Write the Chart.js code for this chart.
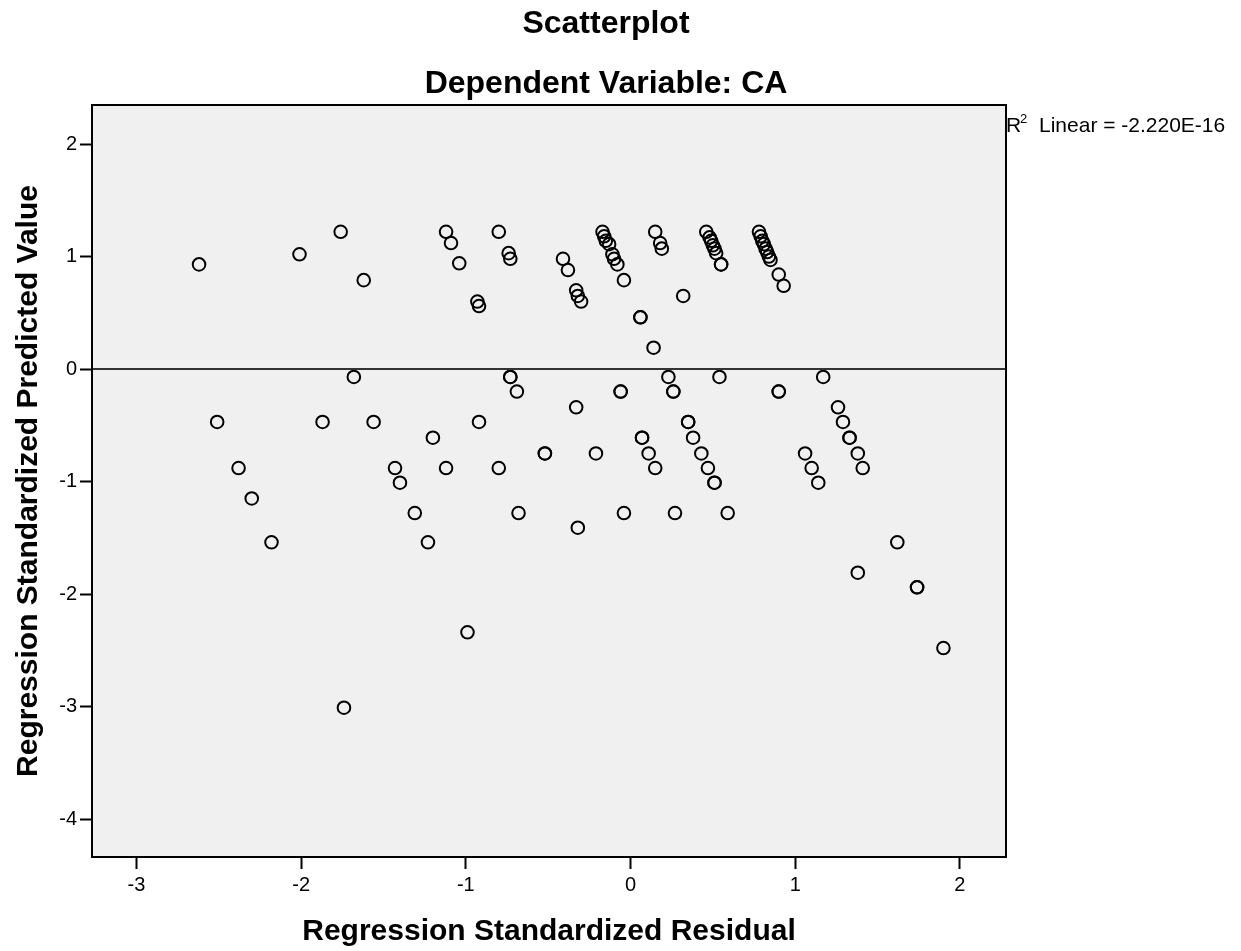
<!DOCTYPE html>
<html>
<head>
<meta charset="utf-8">
<script src="https://cdn.jsdelivr.net/npm/chart.js@4/dist/chart.umd.min.js"></script>
<style>
  html,body{margin:0;padding:0;background:#fff;}
  #c{display:block;}
</style>
</head>
<body>
<canvas id="c" width="1241" height="951"></canvas>
<script>
// values
const residual = [
  -2.62,-2.01,-1.76,-1.62,-1.12,-1.09,-1.04,-0.93,-0.92,-0.80,-0.74,-0.73,-0.41,-0.38,-0.33,-0.32,-0.30,
  -0.17,-0.16,-0.15,-0.13,-0.11,-0.10,-0.08,-0.04,0.06,0.06,0.14,0.15,0.18,0.19,0.32,
  0.46,0.48,0.49,0.50,0.51,0.52,0.55,0.55,0.78,0.79,0.80,0.81,0.82,0.83,0.84,0.85,0.90,0.93,
  -1.68,-0.73,-0.73,-0.69,0.23,0.54,0.90,0.90,1.17,-0.06,-0.06,0.26,0.26,
  -2.51,-1.87,-1.56,-0.92,-0.33,0.35,0.35,1.26,1.29,
  -2.38,-1.43,-1.12,-0.80,-1.20,-0.52,-0.52,-0.21,0.07,0.07,0.11,0.15,0.38,0.43,0.47,0.51,0.51,
  -1.40,1.06,1.10,1.14,1.33,1.33,1.38,1.41,
  -2.30,-1.31,-0.68,-0.04,0.27,0.59,-0.32,-2.18,-1.23,1.62,1.38,1.74,1.74,1.90,-0.99,-1.74
];
const predicted = [
  0.93,1.02,1.22,0.79,1.22,1.12,0.94,0.60,0.56,1.22,1.03,0.98,0.98,0.88,0.70,0.65,0.60,
  1.22,1.18,1.14,1.11,1.02,0.98,0.93,0.79,0.46,0.46,0.19,1.22,1.12,1.07,0.65,
  1.22,1.17,1.14,1.10,1.07,1.03,0.93,0.93,1.22,1.18,1.14,1.11,1.07,1.04,1.00,0.97,0.84,0.74,
  -0.07,-0.07,-0.07,-0.20,-0.07,-0.07,-0.20,-0.20,-0.07,-0.20,-0.20,-0.20,-0.20,
  -0.47,-0.47,-0.47,-0.47,-0.34,-0.47,-0.47,-0.34,-0.47,
  -0.88,-0.88,-0.88,-0.88,-0.61,-0.75,-0.75,-0.75,-0.61,-0.61,-0.75,-0.88,-0.61,-0.75,-0.88,-1.01,-1.01,
  -1.01,-0.75,-0.88,-1.01,-0.61,-0.61,-0.75,-0.88,
  -1.15,-1.28,-1.28,-1.28,-1.28,-1.28,-1.41,-1.54,-1.54,-1.54,-1.81,-1.94,-1.94,-2.48,-2.34,-3.01
];
const xTicks = [-3,-2,-1,0,1,2];
const yTicks = [-4,-3,-2,-1,0,1,2];
const xRange = [-3.27, 2.28];
const yRange = [-4.337, 2.347];
const fitLine = [0, 0];   // R2 linear fit, flat at zero
const titles = ['Scatterplot', 'Dependent Variable: CA'];
const xTitle = 'Regression Standardized Residual';
const yTitle = 'Regression Standardized Predicted Value';
const fitLabel = 'Linear = -2.220E-16';

const FONT = "'Liberation Sans', Arial, sans-serif";

const frame = {
  id: 'frame',
  beforeDraw(chart){
    const {ctx, chartArea:a} = chart;
    ctx.save();
    ctx.fillStyle = '#fff';
    ctx.fillRect(0,0,chart.width,chart.height);
    ctx.fillStyle = '#f0f0f0';
    ctx.fillRect(a.left,a.top,a.right-a.left,a.bottom-a.top);
    ctx.restore();
  },
  afterDraw(chart){
    const {ctx, chartArea:a} = chart;
    ctx.save();
    ctx.strokeStyle = '#000'; ctx.lineWidth = 2;
    ctx.strokeRect(a.left,a.top,a.right-a.left,a.bottom-a.top);
    ctx.fillStyle = '#000';
    ctx.textAlign = 'center'; ctx.textBaseline = 'alphabetic';
    ctx.font = 'bold 32px ' + FONT;
    ctx.fillText(titles[0], 606, 33);
    ctx.fillText(titles[1], 606, 93);
    ctx.font = 'bold 30px ' + FONT;
    ctx.textBaseline = 'middle';
    ctx.fillText(xTitle, (a.left+a.right)/2, 932);
    ctx.save();
    ctx.translate(29,(a.top+a.bottom)/2);
    ctx.rotate(-Math.PI/2);
    ctx.fillText(yTitle,0,0);
    ctx.restore();
    // R2 label
    ctx.textAlign = 'left';
    ctx.font = '21px ' + FONT;
    ctx.fillText('R', 1006, 126);
    ctx.font = '13px ' + FONT;
    ctx.fillText('2', 1020, 119);
    ctx.font = '21px ' + FONT;
    ctx.fillText(fitLabel, 1039, 126);
    ctx.restore();
  }
};

new Chart(document.getElementById('c'), {
  type: 'scatter',
  data: {
    datasets: [
      {
        type: 'line',
        data: xRange.map((x,i)=>({x, y: fitLine[i]})),
        borderColor: '#333', borderWidth: 2,
        pointRadius: 0, fill: false
      },
      {
        data: residual.map((x,i)=>({x, y: predicted[i]})),
        pointStyle: 'circle', pointRadius: 6.3,
        borderColor: '#000', borderWidth: 2,
        backgroundColor: 'rgba(0,0,0,0)'
      }
    ]
  },
  options: {
    responsive: false, devicePixelRatio: 1, animation: false,
    layout: {padding: {top: 105, right: 235, left: 0, bottom: 0}},
    plugins: {legend: {display: false}, tooltip: {enabled: false}, title: {display: false}},
    scales: {
      x: {
        type: 'linear', min: xRange[0], max: xRange[1],
        afterFit: s => { s.height = 94; },
        afterBuildTicks: s => { s.ticks = xTicks.map(v=>({value:v})); },
        grid: {drawOnChartArea: false, drawTicks: true, tickLength: 12, tickColor: '#000', tickWidth: 2},
        border: {display: true, color: '#000', width: 2},
        ticks: {color: '#000', font: {family: FONT, size: 20}, padding: 4, maxRotation: 0}
      },
      y: {
        type: 'linear', min: yRange[0], max: yRange[1],
        afterFit: s => { s.width = 92; },
        afterBuildTicks: s => { s.ticks = yTicks.map(v=>({value:v})); },
        grid: {drawOnChartArea: false, drawTicks: true, tickLength: 12, tickColor: '#000', tickWidth: 2},
        border: {display: true, color: '#000', width: 2},
        ticks: {color: '#000', font: {family: FONT, size: 20}, padding: 3}
      }
    }
  },
  plugins: [frame]
});
</script>
</body>
</html>
